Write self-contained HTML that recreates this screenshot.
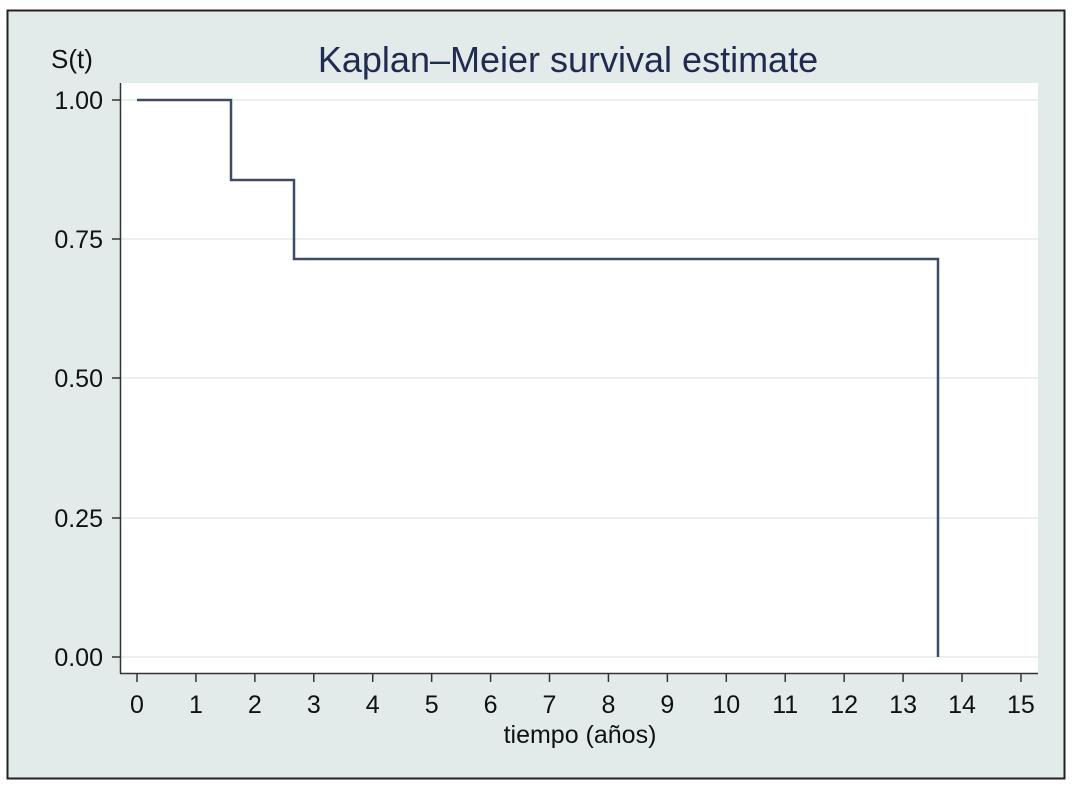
<!DOCTYPE html><html><head><meta charset="utf-8"><style>body{margin:0;background:#fff}</style></head><body>
<svg width="1076" height="790" xmlns="http://www.w3.org/2000/svg" font-family="Liberation Sans, sans-serif">
<rect x="0" y="0" width="1076" height="790" fill="#fff"/>
<rect x="7.5" y="10.5" width="1057" height="768" fill="#e3eaea" stroke="#222" stroke-width="2"/>
<rect x="121" y="83" width="917" height="590" fill="#fff"/>
<g stroke="#e3eaea" stroke-width="1.5">
<line x1="121" x2="1038" y1="100" y2="100"/><line x1="121" x2="1038" y1="239" y2="239"/>
<line x1="121" x2="1038" y1="378" y2="378"/><line x1="121" x2="1038" y1="518" y2="518"/>
<line x1="121" x2="1038" y1="657" y2="657"/></g>
<g stroke="#333" stroke-width="1.5">
<line x1="120.5" y1="83" x2="120.5" y2="673.5"/><line x1="120" y1="673.5" x2="1038" y2="673.5"/>
<line x1="112" x2="120" y1="100" y2="100"/><line x1="112" x2="120" y1="239" y2="239"/>
<line x1="112" x2="120" y1="378" y2="378"/><line x1="112" x2="120" y1="518" y2="518"/>
<line x1="112" x2="120" y1="657" y2="657"/>
</g>
<g stroke="#333" stroke-width="1.5" id="xt"></g>
<g font-size="25" fill="#111" text-anchor="end">
<text x="103" y="109">1.00</text><text x="103" y="248">0.75</text><text x="103" y="387">0.50</text>
<text x="103" y="527">0.25</text><text x="103" y="666">0.00</text></g>
<g font-size="25" fill="#111" text-anchor="middle" id="xl"></g>
<text x="72" y="68" font-size="26" text-anchor="middle" fill="#111">S(t)</text>
<text x="568" y="72" font-size="36" text-anchor="middle" fill="#1f2b4f">Kaplan–Meier survival estimate</text>
<text x="580" y="743" font-size="25" text-anchor="middle" fill="#111">tiempo (años)</text>
<polyline points="137,100 231,100 231,180 294,180 294,259 938,259 938,657" fill="none" stroke="#3d4a68" stroke-width="2.5"/>
<script>
var t=document.getElementById('xt'),l=document.getElementById('xl'),ns='http://www.w3.org/2000/svg';
for(var i=0;i<=15;i++){var x=137+i*58.93;var ln=document.createElementNS(ns,'line');ln.setAttribute('x1',x);ln.setAttribute('x2',x);ln.setAttribute('y1',673);ln.setAttribute('y2',682);t.appendChild(ln);
var tx=document.createElementNS(ns,'text');tx.setAttribute('x',x);tx.setAttribute('y',713);tx.textContent=i;l.appendChild(tx);}
</script>
</svg></body></html>
